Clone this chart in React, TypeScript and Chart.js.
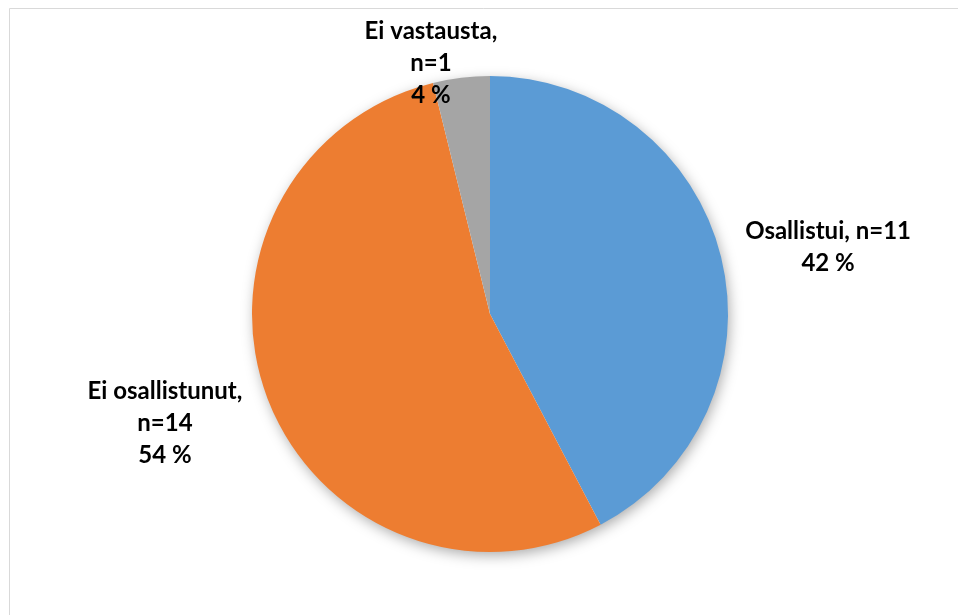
import React, { useEffect, useRef } from "react";
import { Chart, registerables } from "chart.js";

Chart.register(...registerables);

const categories = ["Osallistui", "Ei osallistunut", "Ei vastausta"];
const counts = [11, 14, 1];
const colors = ["#5B9BD5", "#ED7D31", "#A5A5A5"];
// whether the "n=" part goes on its own line
const splitN = [false, true, true];
// label offsets from the arc's outer mid point (layout only)
const labelOffsets = [
  { dx: 107, dy: -11 },
  { dx: -102.5, dy: 24.5 },
  { dx: -30.4, dy: -15.7 },
];

const FONT = "bold 24px Lato, Calibri, 'Open Sans', sans-serif";
const LINE_H = 32;
const CAP_H = 17;

const framePlugin = {
  id: "frame",
  beforeDraw(chart: any) {
    const ctx = chart.ctx;
    ctx.save();
    ctx.fillStyle = "#ffffff";
    ctx.fillRect(0, 0, chart.width, chart.height);
    ctx.strokeStyle = "#D9D9D9";
    ctx.lineWidth = 1;
    ctx.beginPath();
    ctx.moveTo(9.5, chart.height);
    ctx.lineTo(9.5, 8.5);
    ctx.lineTo(chart.width, 8.5);
    ctx.stroke();
    ctx.restore();
  },
};

const shadowPlugin = {
  id: "pieShadow",
  beforeDatasetsDraw(chart: any) {
    const meta = chart.getDatasetMeta(0);
    const arc = meta.data[0];
    if (!arc) return;
    const { x, y, outerRadius } = arc.getProps(["x", "y", "outerRadius"], true);
    const ctx = chart.ctx;
    ctx.save();
    ctx.shadowColor = "rgba(0,0,0,0.35)";
    ctx.shadowBlur = 14;
    ctx.shadowOffsetX = 2;
    ctx.shadowOffsetY = 4;
    ctx.fillStyle = "#ffffff";
    ctx.beginPath();
    ctx.arc(x, y, outerRadius - 1, 0, Math.PI * 2);
    ctx.fill();
    ctx.restore();
  },
};

const labelPlugin = {
  id: "pieLabels",
  afterDatasetsDraw(chart: any) {
    const meta = chart.getDatasetMeta(0);
    const ctx = chart.ctx;
    const total = counts.reduce((a, b) => a + b, 0);
    ctx.save();
    ctx.font = FONT;
    ctx.fillStyle = "#000000";
    ctx.textAlign = "center";
    ctx.textBaseline = "alphabetic";
    meta.data.forEach((arc: any, i: number) => {
      const { x, y, startAngle, endAngle, outerRadius } = arc.getProps(
        ["x", "y", "startAngle", "endAngle", "outerRadius"],
        true
      );
      const mid = (startAngle + endAngle) / 2;
      const cx = x + Math.cos(mid) * outerRadius + labelOffsets[i].dx;
      const cy = y + Math.sin(mid) * outerRadius + labelOffsets[i].dy;
      const pct = Math.round((counts[i] / total) * 100) + " %";
      const lines = splitN[i]
        ? [categories[i] + ",", "n=" + counts[i], pct]
        : [categories[i] + ", n=" + counts[i], pct];
      const blockH = CAP_H + (lines.length - 1) * LINE_H;
      const firstBase = cy - blockH / 2 + CAP_H;
      lines.forEach((t, k) => ctx.fillText(t, cx, firstBase + k * LINE_H));
    });
    ctx.restore();
  },
};

export default function App() {
  const ref = useRef<HTMLCanvasElement | null>(null);
  useEffect(() => {
    if (!ref.current) return;
    const chart = new Chart(ref.current, {
      type: "pie",
      data: {
        labels: categories,
        datasets: [
          {
            data: counts,
            backgroundColor: colors,
            borderWidth: 0,
            hoverOffset: 0,
            offset: 0,
          },
        ],
      },
      options: {
        animation: false,
        responsive: false,
        events: [],
        layout: { padding: { left: 252, right: 230, top: 76, bottom: 63 } },
        plugins: {
          legend: { display: false },
          tooltip: { enabled: false },
        },
      },
      plugins: [framePlugin, shadowPlugin, labelPlugin],
    });
    return () => chart.destroy();
  }, []);
  return (
    <div style={{ position: "fixed", left: 0, top: 0, width: 958, height: 615 }}>
      <canvas ref={ref} width={958} height={615} style={{ display: "block" }} />
    </div>
  );
}
